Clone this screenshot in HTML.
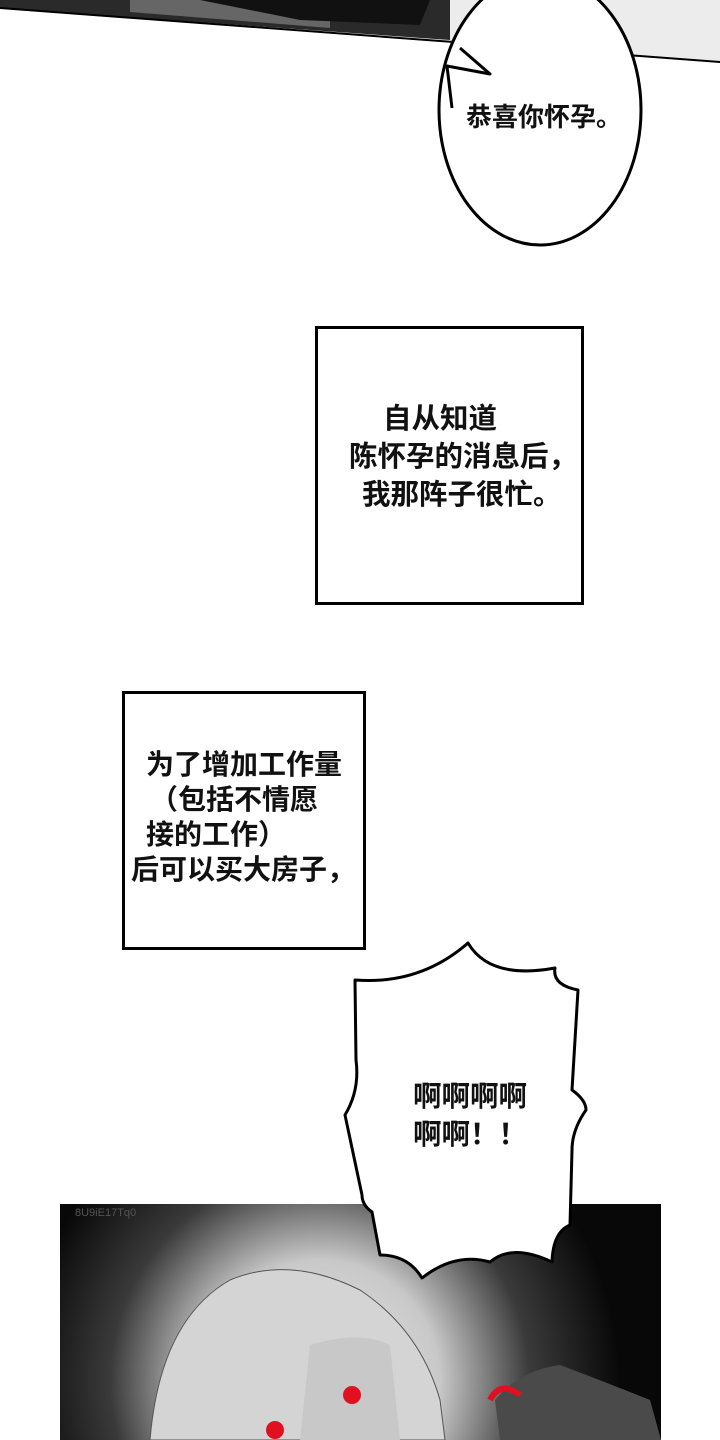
<!DOCTYPE html>
<html><head><meta charset="utf-8"><style>
html,body{margin:0;padding:0;background:#fff;}
body{width:720px;height:1440px;position:relative;overflow:hidden;font-family:"Liberation Sans","Noto Sans CJK SC",sans-serif;}
.t{position:absolute;color:#111;white-space:nowrap;font-weight:bold;font-family:"Liberation Sans","Noto Sans CJK SC",sans-serif;}
.a{font-size:28.5px;line-height:38px;}
.b{font-size:28px;line-height:35px;}
</style></head><body>
<svg width="720" height="1440" style="position:absolute;left:0;top:0">
<defs>
<radialGradient id="g" cx="320" cy="1380" r="300" gradientUnits="userSpaceOnUse">
<stop offset="0" stop-color="#ececec"/><stop offset="0.4" stop-color="#c8c8c8"/><stop offset="0.7" stop-color="#3a3a3a"/><stop offset="1" stop-color="#080808"/>
</radialGradient>
</defs>
<polygon points="0,0 720,0 720,62 0,8" fill="#ececec"/>
<polygon points="0,0 450,0 450,40 0,8" fill="#2a2a2a"/>
<polygon points="130,0 330,0 330,28 130,12" fill="#666"/>
<polygon points="200,0 430,0 420,25 300,20" fill="#111"/>
<line x1="0" y1="8" x2="720" y2="62" stroke="#000" stroke-width="2"/>
<ellipse cx="540" cy="110" rx="101" ry="135" fill="#fff" stroke="#000" stroke-width="3"/>
<polygon points="460,50 490,72 446,66" fill="#fff"/>
<polyline points="460,48 490,74 447,66 452,108" fill="none" stroke="#000" stroke-width="3" stroke-linejoin="round"/>
<rect x="316.5" y="327.5" width="266" height="276" fill="#fff" stroke="#000" stroke-width="3"/>
<rect x="123.5" y="692.5" width="241" height="256" fill="#fff" stroke="#000" stroke-width="3"/>
<rect x="60" y="1204" width="601" height="236" fill="url(#g)"/>
<path d="M150,1440 Q160,1320 230,1280 Q290,1255 360,1290 Q420,1330 440,1400 L445,1440 Z" fill="#d4d4d4" stroke="#555" stroke-width="1"/>
<path d="M310,1345 Q360,1330 390,1345 L400,1440 L300,1440 Z" fill="#c8c8c8"/>
<circle cx="352" cy="1395" r="9" fill="#e01020"/>
<circle cx="275" cy="1430" r="9" fill="#e01020"/>
<path d="M500,1440 L495,1400 Q520,1370 560,1365 Q600,1380 650,1400 L661,1440 Z" fill="#4a4a4a"/>
<path d="M490,1400 Q500,1380 520,1395" stroke="#e01020" stroke-width="6" fill="none"/>
<text x="75" y="1216" font-size="11" fill="#555" font-family="Liberation Sans">8U9iE17Tq0</text>
<path d="M468,943 Q490,980 555,968 Q552,985 578,990 L572,1090 Q586,1100 586,1110 Q572,1130 572,1150 L570,1225 Q553,1232 552,1262 Q512,1243 490,1262 Q455,1252 422,1278 Q408,1255 380,1255 L372,1212 Q362,1205 362,1195 L345,1115 Q360,1090 356,1060 L355,980 Q420,985 468,943 Z" fill="#fff" stroke="#000" stroke-width="3" stroke-linejoin="round"/>
</svg>
<div class="t" style="left:466px;top:100px;font-size:26px;line-height:34px;">恭喜你怀孕。</div>
<div class="t a" style="left:383px;top:400px;">自从知道</div>
<div class="t a" style="left:349px;top:438px;">陈怀孕的消息后，</div>
<div class="t a" style="left:362px;top:476px;">我那阵子很忙。</div>
<div class="t b" style="left:146px;top:747px;">为了增加工作量</div>
<div class="t b" style="left:150px;top:782px;">（包括不情愿</div>
<div class="t b" style="left:146px;top:817px;">接的工作）</div>
<div class="t b" style="left:131px;top:852px;">后可以买大房子，</div>
<div class="t" style="left:413px;top:1078px;font-size:28.5px;line-height:38px;">啊啊啊啊</div>
<div class="t" style="left:413px;top:1116px;font-size:28.5px;line-height:38px;">啊啊！！</div>
</body></html>
